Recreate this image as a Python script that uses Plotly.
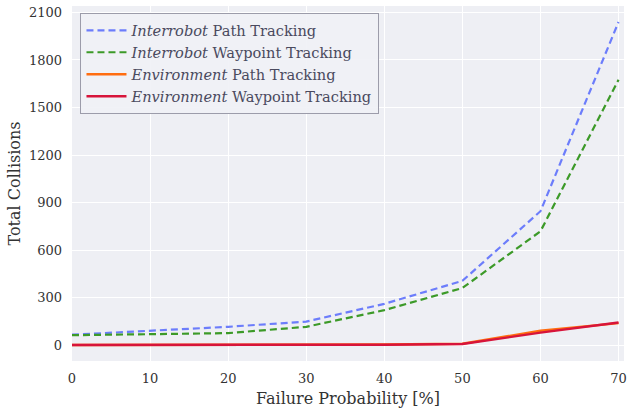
import plotly.graph_objects as go

failure_prob = [0, 10, 20, 30, 40, 50, 60, 70]
interrobot_path = [65, 90, 115, 148, 260, 405, 845, 2040]
interrobot_waypoint = [62, 68, 75, 115, 220, 360, 718, 1675]
environment_path = [0, 0, 0, 1, 3, 8, 90, 138]
environment_waypoint = [0, 0, 0, 0, 2, 6, 78, 142]
y_ticks = [0, 300, 600, 900, 1200, 1500, 1800, 2100]
x_ticks = [0, 10, 20, 30, 40, 50, 60, 70]

FONT = "DejaVu Serif"

fig = go.Figure()
fig.add_trace(go.Scatter(x=failure_prob, y=interrobot_path, mode="lines",
                         name="<i>Interrobot</i> Path Tracking",
                         line=dict(color="#6c7dfb", width=2.2, dash="7px,4px")))
fig.add_trace(go.Scatter(x=failure_prob, y=interrobot_waypoint, mode="lines",
                         name="<i>Interrobot</i> Waypoint Tracking",
                         line=dict(color="#3c9a28", width=2.2, dash="7px,4px")))
fig.add_trace(go.Scatter(x=failure_prob, y=environment_path, mode="lines",
                         name="<i>Environment</i> Path Tracking",
                         line=dict(color="#ff6d10", width=2.4)))
fig.add_trace(go.Scatter(x=failure_prob, y=environment_waypoint, mode="lines",
                         name="<i>Environment</i> Waypoint Tracking",
                         line=dict(color="#d7143a", width=2.4)))

fig.update_layout(
    width=627, height=408,
    margin=dict(l=72, r=0, t=6, b=47),
    paper_bgcolor="white",
    plot_bgcolor="#eeeff4",
    font=dict(family=FONT, size=13, color="#333333"),
    showlegend=True,
    legend=dict(
        x=0.015, y=0.98, xanchor="left", yanchor="top",
        bgcolor="rgba(240,241,246,0.9)",
        bordercolor="#9c9caa", borderwidth=1.2,
        font=dict(family=FONT, size=14.6, color="#4a4a5e"),
        tracegroupgap=0, itemwidth=40,
    ),
    xaxis=dict(
        range=[0, 70.7], tickvals=x_ticks, ticktext=[str(v) for v in x_ticks],
        showgrid=True, gridcolor="white", gridwidth=1.2, zeroline=False,
        showline=False, ticks="", ticklabelstandoff=8, ticklabeloverflow="allow",
        title=dict(text="Failure Probability [%]", font=dict(size=16, color="#333333"), standoff=7),
    ),
    yaxis=dict(
        range=[-101, 2141], tickvals=y_ticks, ticktext=[str(v) for v in y_ticks],
        showgrid=True, gridcolor="white", gridwidth=1.2, zeroline=False,
        showline=False, ticks="", ticklabelstandoff=9,
        title=dict(text="Total Collisions", font=dict(size=16, color="#333333"), standoff=4),
    ),
)

fig.write_html("out.html")
